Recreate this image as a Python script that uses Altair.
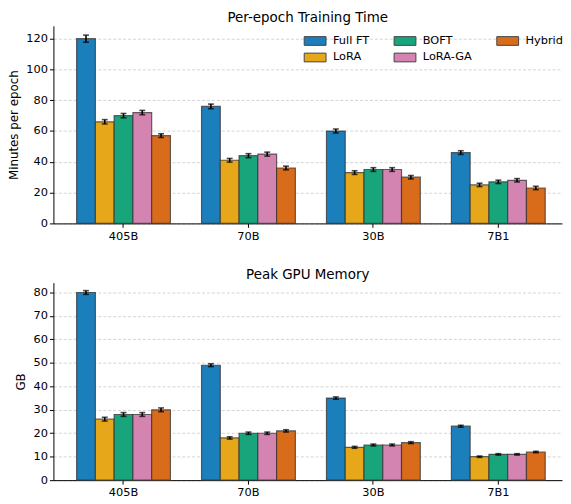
import altair as alt
import pandas as pd

models = ["405B", "70B", "30B", "7B1"]
methods = ["Full FT", "LoRA", "BOFT", "LoRA-GA", "Hybrid"]
colors = ["#1b7fbb", "#e6a71a", "#18a57b", "#d384b0", "#d96c1a"]

# per-epoch training time (minutes), rows = methods, cols = models
time_vals = [
    [120, 76, 60, 46],
    [66, 41, 33, 25],
    [70, 44, 35, 27],
    [72, 45, 35, 28],
    [57, 36, 30, 23],
]
time_err = [
    [2.3, 1.5, 1.3, 1.2],
    [1.4, 1.2, 1.2, 1.1],
    [1.4, 1.3, 1.2, 1.1],
    [1.4, 1.3, 1.2, 1.1],
    [1.2, 1.2, 1.1, 1.1],
]
# peak GPU memory (GB)
mem_vals = [
    [80, 49, 35, 23],
    [26, 18, 14, 10],
    [28, 20, 15, 11],
    [28, 20, 15, 11],
    [30, 21, 16, 12],
]
mem_err = [
    [0.8, 0.6, 0.5, 0.4],
    [0.8, 0.5, 0.4, 0.3],
    [0.8, 0.5, 0.4, 0.3],
    [0.8, 0.5, 0.4, 0.3],
    [0.8, 0.5, 0.4, 0.3],
]

FONT = "DejaVu Sans"


def make_df(vals, errs):
    rows = []
    for i, m in enumerate(methods):
        for j, g in enumerate(models):
            rows.append({"model": g, "method": m, "value": vals[i][j],
                         "lo": vals[i][j] - errs[i][j], "hi": vals[i][j] + errs[i][j]})
    return pd.DataFrame(rows)


def panel(df, title, ytitle, ymax, yticks, title_pad, show_legend):
    xaxis = alt.Axis(labelAngle=0, labelFontSize=11.5, labelFont=FONT, labelColor="black",
                     domainColor="black", tickColor="black", tickSize=4,
                     labelPadding=3, grid=False)
    xscale = alt.Scale(paddingInner=0.249, paddingOuter=0.16, align=0.58)
    x = alt.X("model:N", sort=models, title=None, scale=xscale, axis=xaxis)
    xo = alt.XOffset("method:N", sort=methods, scale=alt.Scale(paddingInner=0, paddingOuter=0))
    yaxis = alt.Axis(values=yticks, labelOverlap=False, labelFontSize=11.5, labelFont=FONT,
                     labelColor="black",
                     titleFontSize=12, titleFont=FONT, titleFontWeight="normal",
                     titleColor="black", titlePadding=title_pad,
                     domainColor="black", tickColor="black", tickSize=4,
                     labelPadding=2, grid=True, gridColor="#c8c8c8",
                     gridDash=[3, 2], gridWidth=0.8)
    yscale = alt.Scale(domain=[0, ymax], nice=False, zero=True)
    y = alt.Y("value:Q", title=ytitle, scale=yscale, axis=yaxis)
    ylo = alt.Y("lo:Q", title=ytitle, scale=yscale, axis=yaxis)
    yhi = alt.Y("hi:Q", title=ytitle, scale=yscale, axis=yaxis)
    if show_legend:
        leg = alt.Legend(title=None, orient="none", legendX=255, legendY=5,
                         columns=3, columnPadding=22, rowPadding=-1, gridAlign="each",
                         symbolType="M-1.2,-0.48H1.2V0.48H-1.2Z", symbolSize=339,
                         symbolStrokeColor="#444444", symbolStrokeWidth=1, symbolOpacity=1,
                         labelFont=FONT, labelFontSize=11.5, labelColor="black", labelOffset=8,
                         padding=0)
    else:
        leg = None
    color = alt.Color("method:N",
                      scale=alt.Scale(domain=methods, range=colors),
                      legend=leg)
    base = alt.Chart(df)
    bars = base.mark_bar(stroke="#333333", strokeOpacity=0.75, strokeWidth=1.2, opacity=1).encode(
        x=x, xOffset=xo, y=y, color=color)
    rules = base.mark_rule(color="black", strokeWidth=1.6).encode(
        x=x, xOffset=xo, y=ylo, y2="hi:Q")
    cap_lo = base.mark_tick(color="black", thickness=1.6, size=6, orient="horizontal").encode(
        x=x, xOffset=xo, y=ylo)
    cap_hi = base.mark_tick(color="black", thickness=1.6, size=6, orient="horizontal").encode(
        x=x, xOffset=xo, y=yhi)
    return alt.layer(bars, rules, cap_lo, cap_hi).properties(
        width=515, height=200,
        title=alt.TitleParams(title, font=FONT, fontSize=13.6, fontWeight="normal",
                              color="black", offset=1))


top = panel(make_df(time_vals, time_err), "Per-epoch Training Time", "Minutes per epoch",
            128.3, [0, 20, 40, 60, 80, 100, 120], 5, True)
bottom = panel(make_df(mem_vals, mem_err), "Peak GPU Memory", "GB",
               84.2, [0, 10, 20, 30, 40, 50, 60, 70, 80], 6, False)

chart = alt.vconcat(top, bottom, spacing=60, bounds="flush").resolve_scale(
    color="independent", y="independent", x="independent"
).configure(padding={"left": 0, "top": 0, "right": 0, "bottom": 0}).configure_view(stroke=None)

chart.save("out.html", embed_options={"renderer": "svg", "actions": False})
